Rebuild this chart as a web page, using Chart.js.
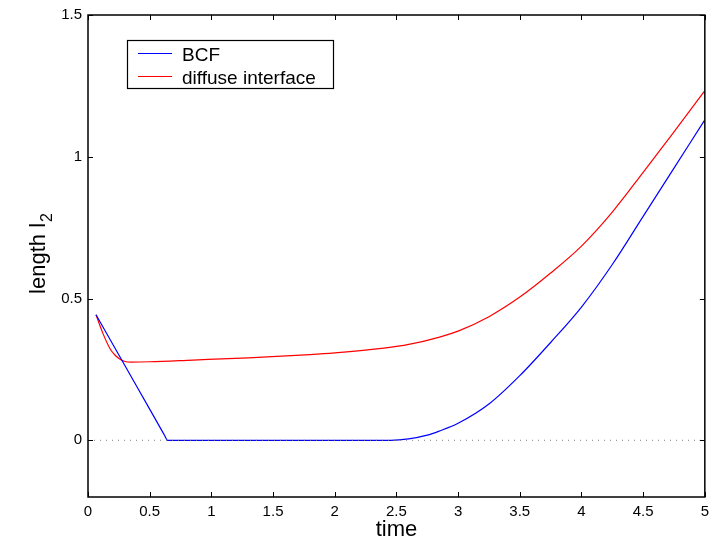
<!DOCTYPE html>
<html>
<head>
<meta charset="utf-8">
<script src="https://cdn.jsdelivr.net/npm/chart.js@4/dist/chart.umd.min.js"></script>
<style>
  html, body { margin: 0; padding: 0; background: #fff; }
  #wrap { width: 715px; height: 543px; }
</style>
</head>
<body>
<div id="wrap"><canvas id="chart"></canvas></div>
<script>
// BCF model
const bcfTime = [0.065, 0.3, 0.5, 0.62, 0.645, 0.69, 2.45, 2.6, 2.75, 2.85, 3.0, 3.25, 3.5, 3.75, 4.0, 4.25, 4.5, 4.75, 5.0];
const bcfLength = [0.443, 0.263, 0.11, 0.018, 0.0, 0, 0, 0.005, 0.018, 0.033, 0.06, 0.128, 0.228, 0.345, 0.47, 0.62, 0.79, 0.96, 1.13];

// diffuse interface model
const difTime = [0.065, 0.12, 0.18, 0.22, 0.26, 0.30, 0.35, 0.5, 0.85, 1.3, 1.8, 2.0, 2.4, 2.6, 2.85, 3.0, 3.25, 3.5, 3.75, 4.0, 4.25, 4.5, 4.75, 5.0];
const difLength = [0.443, 0.378, 0.322, 0.3, 0.286, 0.278, 0.276, 0.277, 0.283, 0.291, 0.302, 0.308, 0.325, 0.338, 0.364, 0.385, 0.436, 0.505, 0.59, 0.685, 0.805, 0.945, 1.088, 1.233];

const zeroTime = [0, 5];
const zeroLength = [0, 0];

const xTicks = [0, 0.5, 1, 1.5, 2, 2.5, 3, 3.5, 4, 4.5, 5];
const yTicks = [0, 0.5, 1, 1.5];
const legendNames = ["BCF", "diffuse interface"];
const legendColors = ["#0000ff", "#ff0000"];

function pts(xs, ys) {
  return xs.map((x, i) => ({ x: x, y: ys[i] }));
}

const FONT = "Liberation Sans, Arial, Helvetica, sans-serif";

// box, inward ticks, legend and y title
const decor = {
  id: "decor",
  afterDraw(chart) {
    const ctx = chart.ctx;
    const a = chart.chartArea;
    const xs = chart.scales.x, ys = chart.scales.y;
    ctx.save();
    ctx.strokeStyle = "#000";
    ctx.lineWidth = 1;
    xTicks.forEach(v => {
      const px = Math.round(xs.getPixelForValue(v)) + 0.5;
      ctx.beginPath();
      ctx.moveTo(px, a.bottom); ctx.lineTo(px, a.bottom - 5);
      ctx.moveTo(px, a.top); ctx.lineTo(px, a.top + 5);
      ctx.stroke();
    });
    yTicks.forEach(v => {
      const py = Math.round(ys.getPixelForValue(v)) + 0.5;
      ctx.beginPath();
      ctx.moveTo(a.left, py); ctx.lineTo(a.left + 5, py);
      ctx.moveTo(a.right, py); ctx.lineTo(a.right - 5, py);
      ctx.stroke();
    });
    ctx.lineWidth = 1.5;
    ctx.strokeRect(a.left, a.top, a.right - a.left, a.bottom - a.top);

    // legend
    ctx.fillStyle = "#fff";
    ctx.fillRect(127, 40, 206, 48);
    ctx.lineWidth = 1.2;
    ctx.strokeRect(127.5, 40.5, 206, 48);
    ctx.font = "19px " + FONT;
    ctx.textBaseline = "alphabetic";
    ctx.textAlign = "left";
    legendNames.forEach((name, i) => {
      const y = 53 + i * 23;
      ctx.strokeStyle = legendColors[i];
      ctx.lineWidth = 1;
      ctx.beginPath();
      ctx.moveTo(138, y + 0.5); ctx.lineTo(172, y + 0.5);
      ctx.stroke();
      ctx.fillStyle = "#000";
      ctx.fillText(name, 182, y + 8);
    });

    // y axis title with subscript
    ctx.translate(45, 254);
    ctx.rotate(-Math.PI / 2);
    ctx.font = "22px " + FONT;
    const main = "length l";
    const w1 = ctx.measureText(main).width;
    ctx.font = "16px " + FONT;
    const w2 = ctx.measureText("2").width;
    const start = -(w1 + w2) / 2;
    ctx.font = "22px " + FONT;
    ctx.fillText(main, start, 0);
    ctx.font = "16px " + FONT;
    ctx.fillText("2", start + w1 + 1, 7);
    ctx.restore();
  }
};

new Chart(document.getElementById("chart"), {
  type: "line",
  data: {
    datasets: [
      {
        label: "zero",
        data: pts(zeroTime, zeroLength),
        borderColor: "#808080",
        borderWidth: 1,
        borderDash: [1, 5],
        pointRadius: 0
      },
      {
        label: legendNames[0],
        data: pts(bcfTime, bcfLength),
        borderColor: legendColors[0],
        borderWidth: 1.2,
        pointRadius: 0,
        cubicInterpolationMode: "monotone"
      },
      {
        label: legendNames[1],
        data: pts(difTime, difLength),
        borderColor: legendColors[1],
        borderWidth: 1.2,
        pointRadius: 0,
        cubicInterpolationMode: "monotone"
      }
    ]
  },
  options: {
    responsive: true,
    maintainAspectRatio: false,
    animation: false,
    layout: { padding: { left: 0, right: 10, top: 11, bottom: 0 } },
    plugins: { legend: { display: false }, tooltip: { enabled: false } },
    scales: {
      x: {
        type: "linear",
        min: 0,
        max: 5,
        grid: { display: false, drawTicks: false },
        border: { display: false },
        afterBuildTicks: axis => { axis.ticks = xTicks.map(v => ({ value: v })); },
        afterFit: axis => { axis.height = 46; },
        ticks: {
          padding: 6,
          color: "#000",
          font: { family: FONT, size: 15 },
          maxRotation: 0,
          callback: v => String(v)
        },
        title: {
          display: true,
          text: "time",
          color: "#000",
          font: { family: FONT, size: 22 },
          padding: { top: 0, bottom: 0 }
        }
      },
      y: {
        type: "linear",
        min: -0.2,
        max: 1.5,
        grid: { display: false, drawTicks: false },
        border: { display: false },
        afterBuildTicks: axis => { axis.ticks = yTicks.map(v => ({ value: v })); },
        afterFit: axis => { axis.width = 88; },
        ticks: {
          padding: 6,
          color: "#000",
          font: { family: FONT, size: 15 },
          callback: v => String(v)
        }
      }
    }
  },
  plugins: [decor]
});
</script>
</body>
</html>
